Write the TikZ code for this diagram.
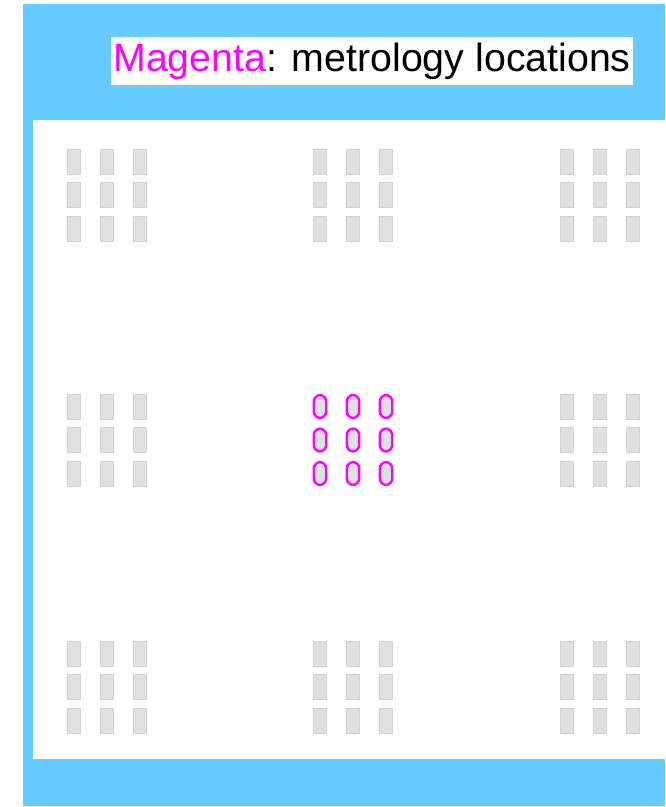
\documentclass[tikz,border=0pt]{standalone}
\usepackage{fontspec}
\setmainfont{Liberation Sans}
\usepackage{tikz}
\usetikzlibrary{positioning, calc}
\definecolor{waferblue}{RGB}{102, 204, 255}
\definecolor{sitegray}{RGB}{224, 224, 224}
\definecolor{siteedge}{RGB}{210, 210, 210}
\definecolor{metromagenta}{RGB}{255, 0, 255}
\tikzset{
  site/.style={rectangle, fill=sitegray, draw=siteedge, line width=0.4pt,
    minimum width=9.6pt, minimum height=18.4pt, inner sep=0pt},
  metrosite/.style={rectangle, rounded corners=5pt, fill=sitegray,
    draw=metromagenta, line width=1.8pt, minimum width=9.4pt,
    minimum height=17.2pt, inner sep=0pt},
  legendbox/.style={fill=white, inner sep=0pt, minimum width=392pt,
    minimum height=36pt, font=\fontsize{29.5pt}{30pt}\selectfont}
}
% one 3x3 cluster of sites around (#1,#2), named #3-r-c
\newcommand{\sitecluster}[4]{%
  \foreach \r in {-1,0,1} {
    \foreach \c in {-1,0,1} {
      \node[#4] (#3-\r-\c) at (#1+33*\c, #2+33.5*\r) {};
    }
  }
}

\begin{document}
\begin{tikzpicture}[x=0.75pt, y=-0.75pt]
    \useasboundingbox (0,0) rectangle (665,807);
    % Wafer frame
    \fill[waferblue] (23,4) rectangle (665,806);
    \fill[white] (33,120) rectangle (665,759);
    % Legend
    \node[legendbox] (legend) at (372,61)
      {\textcolor{metromagenta}{Magenta}: metrology locations};
    % Fields
    \foreach \fx/\fy/\fn in {107/195/tl, 353/195/tm, 600/195/tr,
                             107/440/ml, 600/440/mr,
                             107/687/bl, 353/687/bm, 600/687/br} {
      \sitecluster{\fx}{\fy}{\fn}{site}
    }
    % Metrology field
    \sitecluster{353}{440}{mm}{metrosite}
  \end{tikzpicture}
\end{document}
